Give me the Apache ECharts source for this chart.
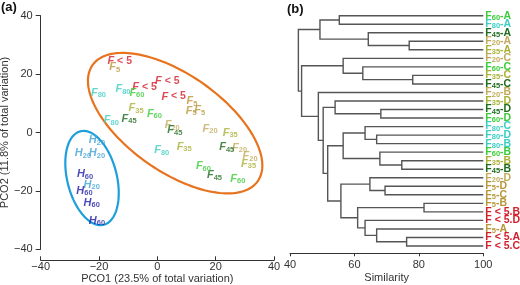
<!DOCTYPE html>
<html><head><meta charset="utf-8">
<script src="https://cdn.jsdelivr.net/npm/echarts@6/dist/echarts.min.js"></script>
<style>html,body{margin:0;padding:0;background:#fff}#c{width:520px;height:285px}</style>
</head><body><div id="c"></div>
<script>
// ---------- Panel (a): PCO scores (label centres, PCO1, PCO2) ----------
const ptsFlt5 = [[-12.9,24.6],[-4.4,15.6],[3.4,17.5],[5.6,12.3]];
const ptsF5   = [[-14.6,22.3],[11.9,10.8],[11.6,7.4],[14.5,7.7]];
const ptsF20  = [[5.1,2.5],[18.1,1.3],[28.2,-5.2],[31.8,-8.1]];
const ptsF35  = [[-7.3,8.3],[25.0,-0.1],[9.2,-4.9],[31.3,-10.7]];
const ptsF45  = [[-9.7,4.7],[6.0,0.75],[23.8,-5.0],[19.6,-14.6]];
const ptsF60  = [[-7.0,13.6],[-1.0,6.4],[15.8,-11.5],[27.6,-15.8]];
const ptsF80  = [[-20.2,13.6],[-11.8,14.8],[-15.8,4.3],[1.5,-6.0]];
const ptsH20  = [[-20.7,-2.7],[-25.5,-7.0],[-20.7,-7.0],[-22.5,-17.8]];
const ptsH60  = [[-24.8,-14.2],[-25.0,-19.9],[-22.5,-24.1],[-20.7,-30.2]];
// ellipses: [centre PCO1, centre PCO2, semi-major, semi-minor, angle (deg)]
const ellipseF = [6.1, 3.2, 34.6, 16.6, -35];
const ellipseH = [-22.4, -15.6, 16.5, 8.5, -76];
const pcoTicks = [-40, -20, 0, 20, 40];

// ---------- Panel (b): dendrogram ----------
const leafTreat = ['F60','F80','F45','F20','F35','F20','F60','F35','F45','F20','F35','F45','F60','F80',
                   'F80','F80','F60','F35','F45','F20','F5','F5','F5','F<5','F<5','F5','F<5','F<5'];
const leafSite  = ['A','A','A','A','A','C','C','C','C','B','D','D','D','C',
                   'D','B','B','B','B','D','D','C','B','B','D','A','A','C'];
// merges: [child a, child b, similarity]; leaves 0..27, merged nodes numbered 28, 29, ...
const merges = [
  [0,1,55.3],[3,4,77.0],[2,29,64.3],[28,30,49.3],
  [7,8,78.1],[6,32,62.6],[5,33,56.5],
  [11,12,68.2],[10,35,54.0],
  [14,15,66.9],[13,37,63.3],[17,18,74.7],[16,39,67.9],[38,40,56.5],
  [20,21,69.5],[19,42,64.8],[22,23,81.6],[26,27,76.2],[25,45,66.9],[24,46,63.3],[44,47,61.0],[43,48,55.8],
  [41,49,51.7],[36,50,50.3],[9,51,48.8],[34,52,43.6],[31,53,42.6]
];
const simTicks = [40, 60, 80, 100];

// ---------- styles ----------
const colors = {
  'F<5':'#d21f2c','F5':'#b8963a','F20':'#c2aa5c','F35':'#a9b236','F45':'#1f6b1f',
  'F60':'#3ccb3a','F80':'#3ccdc4','H20':'#3fa3d6','H60':'#1c1ca6'
};
const FONT = 'Liberation Sans, Arial, sans-serif';

function scatterSeries(name, pts){
  const c = colors[name];
  const letter = name[0];
  const sub = name.slice(1);
  const text = name === 'F<5' ? '{f|F}{t| < 5}' : '{f|' + letter + '}{s|' + sub + '}';
  return {
    type:'scatter', name, xAxisIndex:0, yAxisIndex:0, data:pts, symbolSize:0, z:3,
    label:{show:true, position:'inside', formatter:()=>text,
      rich:{
        f:{fontFamily:FONT, fontSize:11, fontWeight:'bold', fontStyle:'italic', color:c, lineHeight:13},
        s:{fontFamily:FONT, fontSize:7.5, fontWeight:'bold', color:c, verticalAlign:'bottom', lineHeight:8},
        t:{fontFamily:FONT, fontSize:10.5, fontWeight:'bold', color:c, lineHeight:13}
      }}
  };
}

function ellipseSeries(e, color){
  return {
    type:'custom', xAxisIndex:0, yAxisIndex:0, data:[e], silent:true, z:2,
    encode:{x:0, y:1},
    renderItem(params, api){
      const cx=api.value(0), cy=api.value(1), a=api.value(2), b=api.value(3), ang=api.value(4)*Math.PI/180;
      const pts=[];
      for(let i=0;i<=160;i++){
        const t=i/160*2*Math.PI;
        const x=cx+a*Math.cos(t)*Math.cos(ang)-b*Math.sin(t)*Math.sin(ang);
        const y=cy+a*Math.cos(t)*Math.sin(ang)+b*Math.sin(t)*Math.cos(ang);
        pts.push(api.coord([x,y]));
      }
      return {type:'polygon', shape:{points:pts}, style:{fill:null, stroke:color, lineWidth:2.2}};
    }
  };
}

// dendrogram node positions
const nodeX = [], nodeY = [];
leafTreat.forEach((t,i)=>{ nodeX.push(100); nodeY.push(i); });
const segData = merges.map(m=>{
  const [a,b,s] = m;
  const y = (nodeY[a]+nodeY[b])/2;
  nodeX.push(s); nodeY.push(y);
  return [nodeX[a], nodeY[a], nodeX[b], nodeY[b], s];
});
const leafData = leafTreat.map((t,i)=>[100, i]);

function leafLabel(i){
  const t = leafTreat[i], site = leafSite[i];
  const key = t === 'F<5' ? 'lt' : t;
  if (t === 'F<5') return '{' + key + 'f|F < 5.' + site + '}';
  return '{' + key + 'f|F}{' + key + 's|' + t.slice(1) + '}{' + key + 'f|-' + site + '}';
}
const leafRich = {};
Object.keys(colors).forEach(k=>{
  const key = k === 'F<5' ? 'lt' : k;
  leafRich[key+'f'] = {fontFamily:FONT, fontSize:10.5, fontWeight:'bold', fill:colors[k], color:colors[k], lineHeight:12};
  leafRich[key+'s'] = {fontFamily:FONT, fontSize:7.5, fontWeight:'bold', fill:colors[k], color:colors[k], verticalAlign:'bottom', lineHeight:8};
});

const axisCol = '#333';
const option = {
  animation:false,
  backgroundColor:'#fff',
  title:[
    {text:'(a)', left:1, top:1, padding:0, textStyle:{fontFamily:FONT, fontSize:13, fontWeight:'bold', color:'#111'}},
    {text:'(b)', left:287, top:3, padding:0, textStyle:{fontFamily:FONT, fontSize:13, fontWeight:'bold', color:'#111'}}
  ],
  grid:[
    {left:40.7, right:246, top:15.7, bottom:35.7, outerBoundsMode:'none', containLabel:false},
    {left:290, right:36.7, top:15.7, bottom:39, outerBoundsMode:'none', containLabel:false}
  ],
  xAxis:[
    {type:'value', gridIndex:0, min:pcoTicks[0], max:pcoTicks[pcoTicks.length-1], interval:20, offset:11,
     name:'PCO1 (23.5% of total variation)', nameLocation:'middle', nameGap:13, nameMoveOverlap:false,
     nameTextStyle:{fontFamily:FONT, fontSize:11, color:axisCol},
     axisLine:{onZero:false, lineStyle:{color:axisCol, width:1}}, axisTick:{inside:true, length:4, lineStyle:{color:axisCol}},
     axisLabel:{fontFamily:FONT, fontSize:11, color:axisCol, margin:1, formatter:v=>String(v).replace('-','\u2212')}, splitLine:{show:false}},
    {type:'value', gridIndex:1, min:simTicks[0], max:simTicks[simTicks.length-1], interval:20, offset:7.3,
     name:'Similarity', nameLocation:'middle', nameGap:19, nameMoveOverlap:false,
     nameTextStyle:{fontFamily:FONT, fontSize:11, color:axisCol},
     axisLine:{onZero:false, lineStyle:{color:axisCol, width:1}}, axisTick:{length:3, lineStyle:{color:axisCol}},
     axisLabel:{fontFamily:FONT, fontSize:11, color:axisCol, margin:6}, splitLine:{show:false}}
  ],
  yAxis:[
    {type:'value', gridIndex:0, min:pcoTicks[0], max:pcoTicks[pcoTicks.length-1], interval:20,
     name:'PCO2 (11.8% of total variation)', nameLocation:'middle', nameGap:30, nameMoveOverlap:false,
     nameTextStyle:{fontFamily:FONT, fontSize:11, color:axisCol},
     axisLine:{show:true, onZero:false, lineStyle:{color:axisCol, width:1}}, axisTick:{show:true, length:5, lineStyle:{color:axisCol}},
     axisLabel:{fontFamily:FONT, fontSize:11, color:axisCol, margin:8, formatter:v=>String(v).replace('-','\u2212')}, splitLine:{show:false}},
    {type:'value', gridIndex:1, min:0, max:leafTreat.length-1, interval:1, inverse:true, position:'right',
     axisLine:{show:false, onZero:false}, axisTick:{show:false}, splitLine:{show:false}, axisLabel:{show:false}}
  ],
  series:[
    ellipseSeries(ellipseF, '#e8731f'),
    ellipseSeries(ellipseH, '#1d9fdc'),
    scatterSeries('F<5', ptsFlt5),
    scatterSeries('F5', ptsF5),
    scatterSeries('F20', ptsF20),
    scatterSeries('F35', ptsF35),
    scatterSeries('F45', ptsF45),
    scatterSeries('F60', ptsF60),
    scatterSeries('F80', ptsF80),
    scatterSeries('H20', ptsH20),
    scatterSeries('H60', ptsH60),
    {
      type:'custom', xAxisIndex:1, yAxisIndex:1, data:segData, silent:true,
      encode:{x:[0,2,4], y:[1,3]},
      renderItem(params, api){
        const xa=api.value(0), ya=api.value(1), xb=api.value(2), yb=api.value(3), s=api.value(4);
        const pts=[api.coord([xa,ya]), api.coord([s,ya]), api.coord([s,yb]), api.coord([xb,yb])];
        return {type:'polyline', shape:{points:pts}, style:{fill:null, stroke:'#555', lineWidth:1.4}};
      }
    },
    {
      type:'custom', xAxisIndex:1, yAxisIndex:1, data:leafData, silent:true, clip:false,
      encode:{x:0, y:1},
      renderItem(params, api){
        const p = api.coord([api.value(0), api.value(1)]);
        return {type:'text', x:p[0]+2, y:p[1],
          style:{text:leafLabel(params.dataIndex), rich:leafRich, align:'left', verticalAlign:'middle'}};
      }
    }
  ]
};
const chart = echarts.init(document.getElementById('c'), null, {renderer:'canvas'});
chart.setOption(option);
</script>
</body></html>
